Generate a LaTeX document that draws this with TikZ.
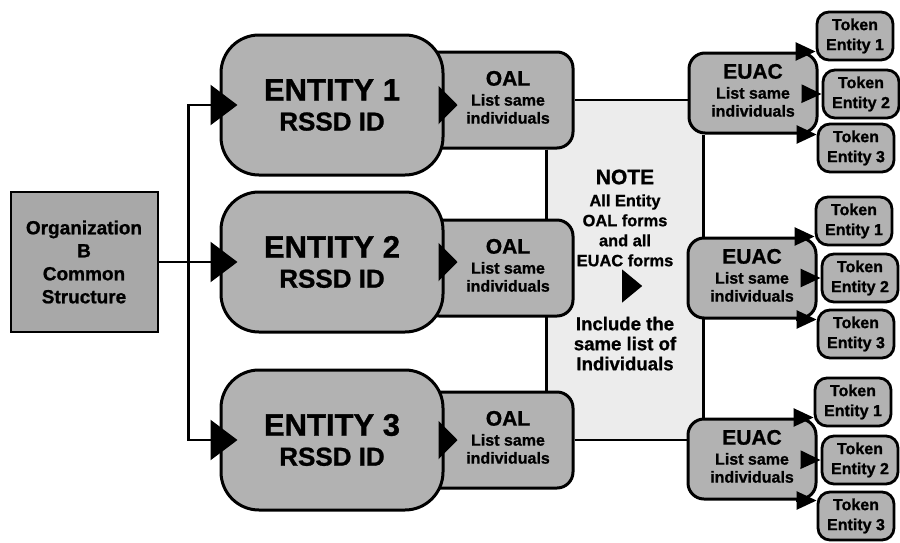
\documentclass[tikz,border=0pt]{standalone}
\usepackage{fontspec}
\setmainfont{Liberation Sans}[BoldFeatures={FakeBold=1}]
\usepackage{tikz}
\usetikzlibrary{arrows.meta, positioning, shapes.geometric}
\definecolor{boxgray}{RGB}{178,178,178}
\definecolor{orggray}{RGB}{168,168,168}
\definecolor{notegray}{RGB}{236,236,236}
\pgfdeclarelayer{background}
\pgfsetlayers{background,main}
\newcommand{\formtext}[1]{\begin{tabular}{@{}c@{}}{\fontsize{10.5}{12}\selectfont #1}\\[1pt]List same\\individuals\end{tabular}}

\begin{document}
\begin{tikzpicture}[
    x=0.5pt, y=-0.5pt,
    orgbox/.style={rectangle, draw, line width=1pt, fill=orggray, minimum width=73.5pt, minimum height=70pt, align=center, font=\bfseries\fontsize{9.5}{11.5}\selectfont},
    entity/.style={rectangle, draw, line width=1.5pt, fill=boxgray, minimum width=111pt, minimum height=70pt, align=center, rounded corners=19pt, font=\bfseries\fontsize{13}{15}\selectfont},
    form/.style={rectangle, draw, line width=1.5pt, fill=boxgray, minimum width=64pt, minimum height=40pt, inner sep=1pt, align=center, rounded corners=8pt, font=\bfseries\fontsize{8}{9}\selectfont},
    oal/.style={form, minimum width=75pt, minimum height=48pt},
    token/.style={rectangle, draw, line width=1.4pt, fill=boxgray, minimum width=38pt, minimum height=24pt, inner sep=1pt, align=center, rounded corners=6pt, font=\bfseries\fontsize{8}{10}\selectfont},
    notearea/.style={rectangle, fill=notegray, minimum width=78pt, minimum height=170pt, inner sep=0pt, align=center, font=\bfseries\fontsize{8.2}{10}\selectfont},
    pointer/.style={isosceles triangle, isosceles triangle stretches, fill=black, minimum width=16.5pt, minimum height=10pt, inner sep=0pt},
    wire/.style={line width=1.2pt},
    arrow/.style={-{Triangle[length=13.5pt, width=20pt]}, line width=1.2pt},
    formarrow/.style={-{Triangle[length=9.5pt, width=19pt]}, line width=1.2pt},
    tokarrow/.style={-{Triangle[length=10pt, width=9pt]}, line width=1.2pt, shorten <=22pt}
]
    \useasboundingbox (0,0) rectangle (900,542);

    % Organization
    \node[orgbox] (org) at (84,262) {Organization\\B\\Common\\Structure};
    \coordinate[right=15pt of org.east] (bus);

    % OAL forms (tucked behind the entities)
    \node[oal] (oal1) at (498,100) {\hspace*{10pt}\formtext{OAL}};
    \node[oal] (oal2) at (498,268) {\hspace*{10pt}\formtext{OAL}};
    \node[oal] (oal3) at (498,440) {\hspace*{10pt}\formtext{OAL}};

    % Entities
    \node[entity] (ent1) at (332,105) {{\fontsize{15.5}{15}\selectfont ENTITY 1}\\RSSD ID};
    \node[entity] (ent2) at (332,262) {{\fontsize{15.5}{15}\selectfont ENTITY 2}\\RSSD ID};
    \node[entity] (ent3) at (332,440) {{\fontsize{15.5}{15}\selectfont ENTITY 3}\\RSSD ID};

    % EUAC forms
    \node[form] (euac1) at (753,93) {\formtext{EUAC}};
    \node[form] (euac2) at (752,278) {\formtext{EUAC}};
    \node[form] (euac3) at (752,459) {\formtext{EUAC}};

    % Tokens
    \node[token] (tok11) at (855,36) {Token\\Entity 1};
    \node[token] (tok12) at (861,94) {Token\\Entity 2};
    \node[token] (tok13) at (856,148) {Token\\Entity 3};
    \node[token] (tok21) at (854,221) {Token\\Entity 1};
    \node[token] (tok22) at (860,278) {Token\\Entity 2};
    \node[token] (tok23) at (856,334) {Token\\Entity 3};
    \node[token] (tok31) at (853,402) {Token\\Entity 1};
    \node[token] (tok32) at (860,460) {Token\\Entity 2};
    \node[token] (tok33) at (856,516) {Token\\Entity 3};

    % Note between the forms
    \begin{pgfonlayer}{background}
        \node[notearea] (note) at (625,270) {{\fontsize{10.5}{12}\selectfont NOTE}\\[1pt]All Entity\\OAL forms\\and all\\EUAC forms\\[22pt]{\fontsize{9.3}{10}\selectfont Include the}\\{\fontsize{9.3}{10}\selectfont same list of}\\{\fontsize{9.3}{10}\selectfont Individuals}};
        \draw[wire] (note.west |- oal1.south) -- (note.west |- oal3.north);
        \draw[wire] (note.east |- euac1.south) -- (note.east |- euac3.north);
        \draw[wire] (oal1.east) -- (oal1.east -| euac1.west);
        \draw[wire] (oal3.east) -- (oal3.east -| euac3.west);
    \end{pgfonlayer}
    \node[pointer] (mark) at (630,286) {};

    % Arrows
    \draw[wire] (org.east) -- (bus);
    \draw[arrow] (bus) |- ([xshift=9pt]ent1.west);
    \draw[arrow] (bus) -- ([xshift=9pt]ent2.west);
    \draw[arrow] (bus) |- ([xshift=9pt]ent3.west);
    \draw[formarrow] (ent1.east) -- ++(6.5pt,0);
    \draw[formarrow] (ent2.east) -- ++(6.5pt,0);
    \draw[formarrow] (ent3.east) -- ++(6.5pt,0);
    \draw[tokarrow] (euac1.north) -- (euac1.north -| tok11.west);
    \draw[tokarrow, shorten <=25pt] (euac1.center) -- (tok12.west);
    \draw[tokarrow] (euac1.south) -- (euac1.south -| tok13.west);
    \draw[tokarrow] (euac2.north) -- (euac2.north -| tok21.west);
    \draw[tokarrow, shorten <=25pt] (euac2.center) -- (tok22.west);
    \draw[tokarrow] (euac2.south) -- (euac2.south -| tok23.west);
    \draw[tokarrow] (euac3.north) -- (euac3.north -| tok31.west);
    \draw[tokarrow, shorten <=25pt] (euac3.center) -- (tok32.west);
    \draw[tokarrow] (euac3.south) -- (euac3.south -| tok33.west);
\end{tikzpicture}
\end{document}
